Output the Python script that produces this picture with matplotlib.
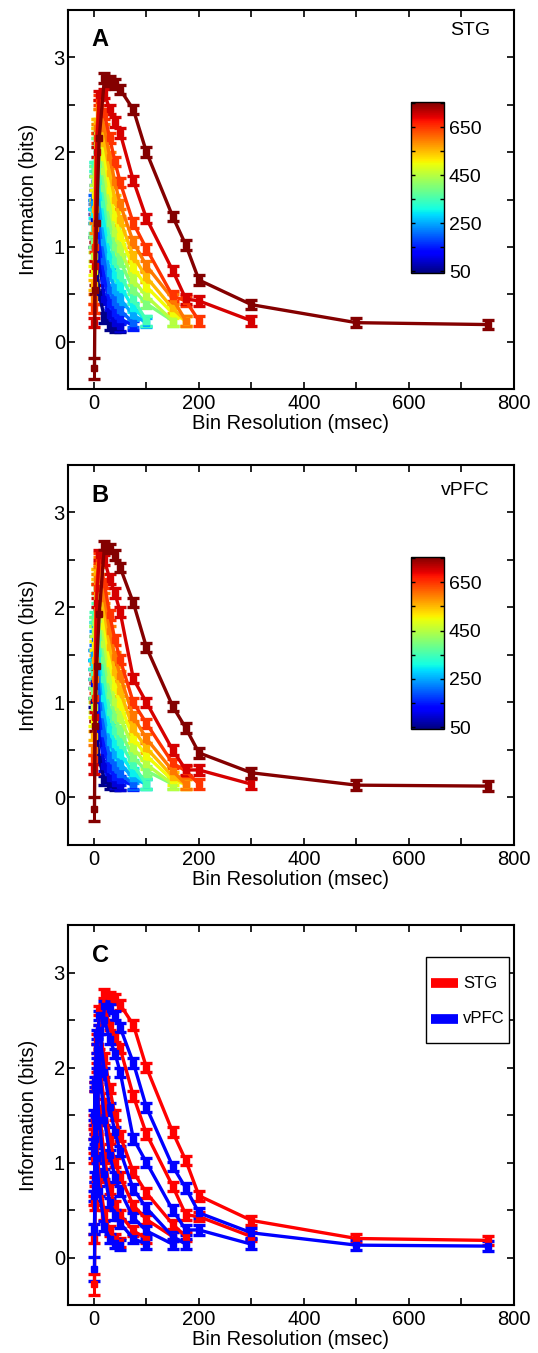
import matplotlib
matplotlib.use('Agg')
import matplotlib.pyplot as plt
from matplotlib.colors import Normalize
from matplotlib.cm import ScalarMappable
from matplotlib.patches import Rectangle

plt.rcParams['font.family'] = ['Liberation Sans', 'DejaVu Sans']

# ── data ──
BINS = [1, 2, 5, 10, 20, 30, 40, 50, 75, 100, 150, 175, 200, 300, 500, 750]
WINDOWS = [50, 100, 150, 200, 250, 300, 350, 400, 450, 500, 550, 600, 650, 700, 750]

# information (bits) per window, over the first len(...) bins
STG_INFO = [
    [1.05, 1.00, 0.80, 0.50, 0.25, 0.17, 0.15, 0.15],
    [1.30, 1.35, 1.20, 0.85, 0.45, 0.28, 0.20, 0.16],
    [1.45, 1.55, 1.45, 1.10, 0.65, 0.40, 0.30, 0.24, 0.17],
    [1.50, 1.70, 1.65, 1.35, 0.85, 0.55, 0.42, 0.33, 0.20],
    [1.45, 1.80, 1.85, 1.55, 1.05, 0.72, 0.55, 0.45, 0.28, 0.20],
    [1.35, 1.85, 2.00, 1.75, 1.25, 0.90, 0.70, 0.58, 0.36, 0.22],
    [1.20, 1.85, 2.10, 1.90, 1.45, 1.08, 0.85, 0.70, 0.45, 0.22],
    [1.05, 1.80, 2.20, 2.05, 1.62, 1.25, 1.00, 0.85, 0.55, 0.40, 0.22],
    [0.90, 1.70, 2.25, 2.20, 1.80, 1.42, 1.15, 0.98, 0.65, 0.48, 0.22],
    [0.75, 1.55, 2.30, 2.30, 1.95, 1.60, 1.32, 1.12, 0.78, 0.58, 0.30, 0.22],
    [0.60, 1.40, 2.30, 2.40, 2.10, 1.78, 1.50, 1.28, 0.90, 0.68, 0.35, 0.22],
    [0.45, 1.20, 2.25, 2.50, 2.25, 1.95, 1.68, 1.45, 1.05, 0.80, 0.45, 0.22],
    [0.35, 1.00, 2.15, 2.55, 2.40, 2.15, 1.90, 1.68, 1.25, 0.98, 0.48, 0.43, 0.22],
    [0.20, 0.80, 2.00, 2.60, 2.62, 2.45, 2.32, 2.20, 1.70, 1.30, 0.75, 0.45, 0.43, 0.22],
    [-0.28, 0.55, 1.25, 2.15, 2.78, 2.75, 2.72, 2.66, 2.45, 2.00, 1.32, 1.02, 0.65, 0.39, 0.20, 0.18],
]

VPFC_INFO = [
    [1.00, 0.95, 0.70, 0.40, 0.18, 0.14, 0.13, 0.13],
    [1.20, 1.25, 1.05, 0.70, 0.33, 0.20, 0.15, 0.13],
    [1.40, 1.50, 1.35, 0.95, 0.50, 0.30, 0.22, 0.18, 0.13],
    [1.50, 1.65, 1.55, 1.20, 0.68, 0.42, 0.32, 0.25, 0.14],
    [1.50, 1.80, 1.80, 1.45, 0.88, 0.58, 0.45, 0.36, 0.20, 0.14],
    [1.40, 1.85, 1.95, 1.65, 1.05, 0.72, 0.56, 0.46, 0.26, 0.14],
    [1.30, 1.90, 2.10, 1.85, 1.25, 0.90, 0.70, 0.58, 0.34, 0.14],
    [1.10, 1.85, 2.20, 2.00, 1.45, 1.08, 0.85, 0.70, 0.42, 0.28, 0.14],
    [0.95, 1.75, 2.30, 2.15, 1.62, 1.25, 1.00, 0.84, 0.52, 0.35, 0.14],
    [0.80, 1.60, 2.35, 2.30, 1.80, 1.42, 1.16, 0.98, 0.62, 0.44, 0.18, 0.14],
    [0.65, 1.45, 2.35, 2.40, 1.95, 1.58, 1.32, 1.12, 0.72, 0.52, 0.22, 0.14],
    [0.50, 1.25, 2.30, 2.48, 2.10, 1.75, 1.48, 1.28, 0.85, 0.62, 0.28, 0.14],
    [0.40, 1.05, 2.20, 2.52, 2.25, 1.92, 1.66, 1.45, 1.00, 0.78, 0.36, 0.28, 0.14],
    [0.30, 0.85, 2.05, 2.55, 2.50, 2.30, 2.15, 1.95, 1.25, 1.00, 0.50, 0.29, 0.29, 0.14],
    [-0.12, 0.75, 1.38, 1.93, 2.65, 2.62, 2.55, 2.42, 2.05, 1.58, 0.96, 0.73, 0.47, 0.26, 0.13, 0.12],
]

ERR = 0.05                # typical half-width of error bars
FIRST_ERR_STG = 0.11      # longest window, 1 ms bin
FIRST_ERR_VPFC = 0.13

C_WINDOWS = [100, 250, 400, 550, 700, 750]   # windows compared in panel C

CBAR_TICKS = [50, 150, 250, 350, 450, 550, 650, 750]
CBAR_LABELS = ['50', '', '250', '', '450', '', '650', '']

# ── figure ──
W, H = 538, 1353
fig = plt.figure(figsize=(W / 100, H / 100), dpi=100)


def px_axes(x0, y0, x1, y1):
    return fig.add_axes([x0 / W, 1 - y1 / H, (x1 - x0) / W, (y1 - y0) / H])


norm = Normalize(42, 755)
cmap = plt.get_cmap('jet')


def draw_curve(ax, vals, color, first_err=None):
    n = len(vals)
    err = [ERR] * n
    if first_err is not None:
        err[0] = first_err
    ax.errorbar(BINS[:n], vals, yerr=err, color=color, lw=2.4, elinewidth=2.2,
                capsize=4.5, capthick=2.4, marker='s', ms=5, mec=color, mfc=color)


def style(ax, letter):
    ax.set_xlim(-50, 800)
    ax.set_ylim(-0.5, 3.5)
    ax.set_xticks(range(0, 801, 200))
    ax.set_xticks(range(100, 800, 200), minor=True)
    ax.set_yticks([0, 1, 2, 3])
    ax.set_yticks([-0.5, 0.5, 1.5, 2.5], minor=True)
    ax.tick_params(which='both', direction='in', top=True, right=True,
                   length=5, width=1.2, labelsize=14.5)
    ax.tick_params(axis='y', pad=2)
    for s in ax.spines.values():
        s.set_linewidth(1.5)
    ax.set_xlabel('Bin Resolution (msec)', fontsize=14.5, labelpad=1)
    ax.set_ylabel('Information (bits)', fontsize=14.5, labelpad=11)
    ax.text(0.054, 0.921, letter, transform=ax.transAxes, fontsize=17,
            fontweight='bold', va='center')


def add_cbar(y0, y1):
    cax = px_axes(411, y0, 444, y1)
    cb = fig.colorbar(ScalarMappable(norm=norm, cmap=cmap), cax=cax, ticks=CBAR_TICKS)
    cb.set_ticklabels(CBAR_LABELS)
    cax.tick_params(direction='in', left=True, right=True, length=3, width=1, labelsize=14)
    cb.outline.set_linewidth(1)


# (A) STG
axA = px_axes(67.7, 10, 514, 389)
for w, vals in zip(WINDOWS, STG_INFO):
    draw_curve(axA, vals, cmap(norm(w)), FIRST_ERR_STG if w == 750 else None)
style(axA, 'A')
axA.text(0.946, 0.947, 'STG', transform=axA.transAxes, fontsize=14, ha='right', va='center')
add_cbar(102, 273)

# (B) vPFC
axB = px_axes(67.7, 465, 514, 845)
for w, vals in zip(WINDOWS, VPFC_INFO):
    draw_curve(axB, vals, cmap(norm(w)), FIRST_ERR_VPFC if w == 750 else None)
style(axB, 'B')
axB.text(0.946, 0.934, 'vPFC', transform=axB.transAxes, fontsize=14, ha='right', va='center')
add_cbar(557, 729)

# (C) STG vs vPFC
axC = px_axes(67.7, 925, 514, 1305)
for w in C_WINDOWS:
    i = WINDOWS.index(w)
    draw_curve(axC, STG_INFO[i], 'red', FIRST_ERR_STG if w == 750 else None)
for w in C_WINDOWS:
    i = WINDOWS.index(w)
    draw_curve(axC, VPFC_INFO[i], 'blue', FIRST_ERR_VPFC if w == 750 else None)
style(axC, 'C')

# legend box drawn by hand (MATLAB style: short thick bars)
tr = axC.transAxes
axC.add_patch(Rectangle((0.803, 0.689), 0.186, 0.227, transform=tr, fill=True,
                        facecolor='white', edgecolor='black', lw=1, zorder=5))
for yy, col, lab in [(0.847, 'red', 'STG'), (0.753, 'blue', 'vPFC')]:
    axC.plot([0.814, 0.874], [yy, yy], color=col, lw=7, transform=tr,
             solid_capstyle='butt', zorder=6)
    axC.text(0.886, yy, lab, transform=tr, fontsize=12, va='center', zorder=6)

fig.savefig('out.png', dpi=100)
